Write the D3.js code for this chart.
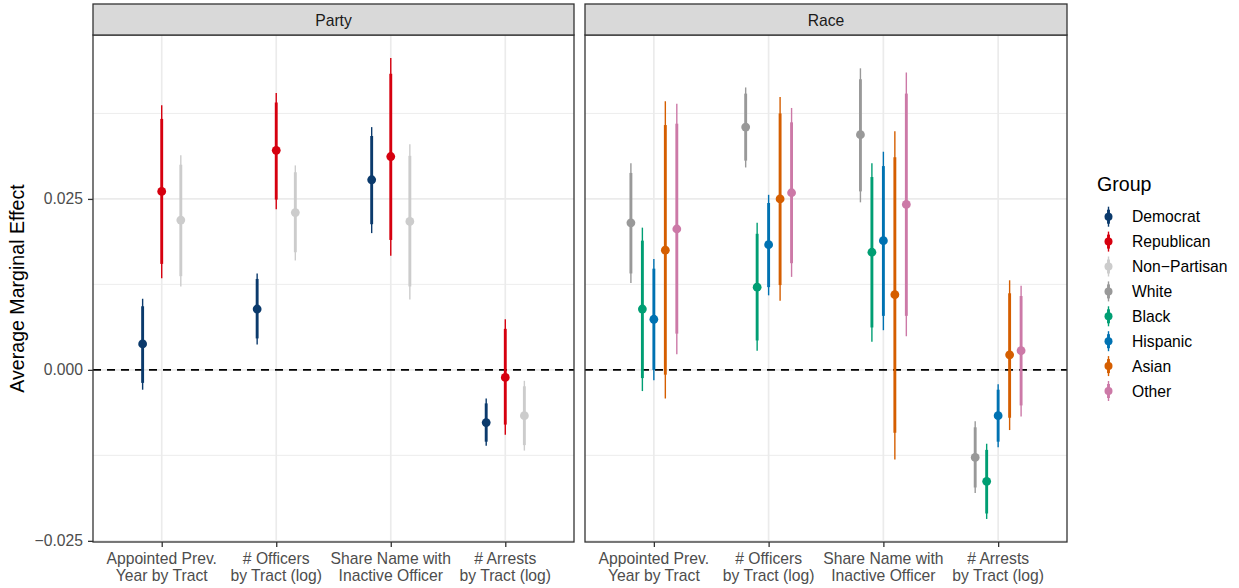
<!DOCTYPE html>
<html>
<head>
<meta charset="utf-8">
<script src="https://cdn.jsdelivr.net/npm/d3@7"></script>
<style>
  body { margin: 0; background: #ffffff; }
  text { font-family: "Liberation Sans", Arial, Helvetica, sans-serif; }
</style>
</head>
<body>
<svg id="chart" width="1239" height="588"></svg>
<script>
// ---- Data -------------------------------------------------------------
const categories = [
  "Appointed Prev.\nYear by Tract",
  "# Officers\nby Tract (log)",
  "Share Name with\nInactive Officer",
  "# Arrests\nby Tract (log)"
];
const facetNames = ["Party", "Race"];
const partyGroups = ["Democrat", "Republican", "Non\u2212Partisan"];
const raceGroups = ["White", "Black", "Hispanic", "Asian", "Other"];
const yTickValues = [-0.025, 0, 0.025];

// Point estimates (one value per category)
const estDemocrat    = [0.0038, 0.0089, 0.0278, -0.0077];
const estRepublican  = [0.0261, 0.0321, 0.0312, -0.0011];
const estNonPartisan = [0.0219, 0.0230, 0.0217, -0.0067];
const estWhite       = [0.0215, 0.0355, 0.0344, -0.0128];
const estBlack       = [0.0089, 0.0121, 0.0172, -0.0163];
const estHispanic    = [0.0074, 0.0183, 0.0189, -0.0067];
const estAsian       = [0.0175, 0.0250, 0.0110, 0.0022];
const estOther       = [0.0206, 0.0259, 0.0242, 0.0028];

// 90% intervals (inner, thick)
const lo90Democrat    = [-0.0019, 0.0046, 0.0213, -0.0105];
const hi90Democrat    = [0.0093, 0.0133, 0.0342, -0.0049];
const lo90Republican  = [0.0155, 0.0249, 0.0190, -0.0080];
const hi90Republican  = [0.0367, 0.0391, 0.0433, 0.0060];
const lo90NonPartisan = [0.0137, 0.0172, 0.0122, -0.0110];
const hi90NonPartisan = [0.0300, 0.0289, 0.0313, -0.0024];
const lo90White       = [0.0141, 0.0306, 0.0261, -0.0172];
const hi90White       = [0.0288, 0.0404, 0.0425, -0.0084];
const lo90Black       = [-0.0012, 0.0043, 0.0062, -0.0210];
const hi90Black       = [0.0189, 0.0199, 0.0282, -0.0117];
const lo90Hispanic    = [0.0000, 0.0121, 0.0079, -0.0105];
const hi90Hispanic    = [0.0148, 0.0244, 0.0298, -0.0029];
const lo90Asian       = [-0.0007, 0.0124, -0.0092, -0.0070];
const hi90Asian       = [0.0358, 0.0375, 0.0311, 0.0112];
const lo90Other       = [0.0053, 0.0156, 0.0079, -0.0052];
const hi90Other       = [0.0360, 0.0362, 0.0404, 0.0108];

// 95% intervals (outer, thin)
const lo95Democrat    = [-0.0029, 0.0037, 0.0200, -0.0111];
const hi95Democrat    = [0.0104, 0.0141, 0.0355, -0.0042];
const lo95Republican  = [0.0134, 0.0235, 0.0167, -0.0095];
const hi95Republican  = [0.0387, 0.0405, 0.0456, 0.0074];
const lo95NonPartisan = [0.0122, 0.0160, 0.0103, -0.0118];
const hi95NonPartisan = [0.0314, 0.0299, 0.0330, -0.0016];
const lo95White       = [0.0127, 0.0296, 0.0245, -0.0180];
const hi95White       = [0.0302, 0.0413, 0.0441, -0.0075];
const lo95Black       = [-0.0031, 0.0028, 0.0041, -0.0218];
const hi95Black       = [0.0208, 0.0215, 0.0302, -0.0108];
const lo95Hispanic    = [-0.0015, 0.0109, 0.0058, -0.0113];
const hi95Hispanic    = [0.0162, 0.0256, 0.0319, -0.0021];
const lo95Asian       = [-0.0042, 0.0101, -0.0131, -0.0088];
const hi95Asian       = [0.0393, 0.0399, 0.0349, 0.0131];
const lo95Other       = [0.0023, 0.0136, 0.0049, -0.0068];
const hi95Other       = [0.0389, 0.0383, 0.0435, 0.0123];

// ---- Table built from the arrays above --------------------------------
const seriesByGroup = {
  "Democrat":          [estDemocrat, lo90Democrat, hi90Democrat, lo95Democrat, hi95Democrat],
  "Republican":        [estRepublican, lo90Republican, hi90Republican, lo95Republican, hi95Republican],
  "Non\u2212Partisan": [estNonPartisan, lo90NonPartisan, hi90NonPartisan, lo95NonPartisan, hi95NonPartisan],
  "White":             [estWhite, lo90White, hi90White, lo95White, hi95White],
  "Black":             [estBlack, lo90Black, hi90Black, lo95Black, hi95Black],
  "Hispanic":          [estHispanic, lo90Hispanic, hi90Hispanic, lo95Hispanic, hi95Hispanic],
  "Asian":             [estAsian, lo90Asian, hi90Asian, lo95Asian, hi95Asian],
  "Other":             [estOther, lo90Other, hi90Other, lo95Other, hi95Other]
};
const facetGroups = { "Party": partyGroups, "Race": raceGroups };

const rows = [];
facetNames.forEach(f => {
  facetGroups[f].forEach((g, gi) => {
    const [est, lo90, hi90, lo95, hi95] = seriesByGroup[g];
    categories.forEach((c, ci) => {
      rows.push({ facet: f, group: g, gIndex: gi, nGroups: facetGroups[f].length,
                  cat: c, est: est[ci], lo90: lo90[ci], hi90: hi90[ci],
                  lo95: lo95[ci], hi95: hi95[ci] });
    });
  });
});

const allGroups = partyGroups.concat(raceGroups);
const color = d3.scaleOrdinal()
  .domain(allGroups)
  .range(["#0b3a6c", "#d6000f", "#cccccc", "#999999", "#009e73", "#0072b2", "#d55e00", "#cc79a7"]);

// ---- Layout -----------------------------------------------------------
const svg = d3.select("#chart");
const panelTop = 35, panelBottom = 542, stripTop = 4;
const panelX = { "Party": [93, 574], "Race": [585, 1067] };
const fsSmall = 15.7, fsLarge = 19.6;

// Shared y scale with 5% expansion on the data range
const yMin = d3.min(rows, d => d.lo95), yMax = d3.max(rows, d => d.hi95);
const pad = (yMax - yMin) * 0.05;
const y = d3.scaleLinear().domain([yMin - pad, yMax + pad]).range([panelBottom, panelTop]);
const minorTicks = [-0.0125, 0.0125, 0.0375].filter(v => v >= y.domain()[0] && v <= y.domain()[1]);

facetNames.forEach((f, fi) => {
  const [x0, x1] = panelX[f];
  const x = d3.scalePoint().domain(categories).range([x0, x1]).padding(0.6);
  const step = x.step();
  const dodge = 0.5;
  const g = svg.append("g");

  // panel background
  g.append("rect").attr("x", x0).attr("y", panelTop)
    .attr("width", x1 - x0).attr("height", panelBottom - panelTop).attr("fill", "#ffffff");

  // grid
  g.selectAll(".minor").data(minorTicks).join("line")
    .attr("x1", x0).attr("x2", x1).attr("y1", d => y(d)).attr("y2", d => y(d))
    .attr("stroke", "#ebebeb").attr("stroke-width", 0.9);
  g.selectAll(".majorY").data(yTickValues).join("line")
    .attr("x1", x0).attr("x2", x1).attr("y1", d => y(d)).attr("y2", d => y(d))
    .attr("stroke", "#ebebeb").attr("stroke-width", 1.7);
  g.selectAll(".majorX").data(categories).join("line")
    .attr("x1", d => x(d)).attr("x2", d => x(d)).attr("y1", panelTop).attr("y2", panelBottom)
    .attr("stroke", "#ebebeb").attr("stroke-width", 1.7);

  // zero reference line
  g.append("line").attr("x1", x0).attr("x2", x1).attr("y1", y(0)).attr("y2", y(0))
    .attr("stroke", "#000000").attr("stroke-width", 1.9).attr("stroke-dasharray", "8,6");

  // point ranges
  const data = rows.filter(r => r.facet === f);
  const xPos = d => x(d.cat) + step * dodge * ((d.gIndex + 0.5) / d.nGroups - 0.5);
  const pr = g.selectAll(".pr").data(data).join("g");
  pr.append("line").attr("x1", xPos).attr("x2", xPos)
    .attr("y1", d => y(d.lo95)).attr("y2", d => y(d.hi95))
    .attr("stroke", d => color(d.group)).attr("stroke-width", 1.4);
  pr.append("line").attr("x1", xPos).attr("x2", xPos)
    .attr("y1", d => y(d.lo90)).attr("y2", d => y(d.hi90))
    .attr("stroke", d => color(d.group)).attr("stroke-width", 2.9);
  pr.append("circle").attr("cx", xPos).attr("cy", d => y(d.est)).attr("r", 4.4)
    .attr("fill", d => color(d.group));

  // panel border
  g.append("rect").attr("x", x0).attr("y", panelTop)
    .attr("width", x1 - x0).attr("height", panelBottom - panelTop)
    .attr("fill", "none").attr("stroke", "#333333").attr("stroke-width", 1.3);

  // strip
  g.append("rect").attr("x", x0).attr("y", stripTop)
    .attr("width", x1 - x0).attr("height", panelTop - stripTop)
    .attr("fill", "#d9d9d9").attr("stroke", "#333333").attr("stroke-width", 1.3);
  g.append("text").attr("x", (x0 + x1) / 2).attr("y", 25.7)
    .attr("text-anchor", "middle").attr("font-size", fsSmall).attr("fill", "#1a1a1a")
    .text(f);

  // x axis
  const xAxis = g.append("g").attr("transform", `translate(0,${panelBottom})`)
    .call(d3.axisBottom(x).tickSize(5).tickFormat(""));
  xAxis.select(".domain").remove();
  xAxis.selectAll(".tick line").attr("stroke", "#333333").attr("stroke-width", 1.3);
  xAxis.selectAll(".tick text").remove();
  const lbl = g.selectAll(".xlbl").data(categories).join("text")
    .attr("text-anchor", "middle").attr("font-size", fsSmall).attr("fill", "#4d4d4d");
  lbl.each(function (d) {
    d.split("\n").forEach((line, li) => {
      d3.select(this).append("tspan").attr("x", x(d)).attr("y", 563.5 + li * 17.5).text(line);
    });
  });

  // y axis (left panel only)
  if (fi === 0) {
    const yAxis = g.append("g").attr("transform", `translate(${x0},0)`)
      .call(d3.axisLeft(y).tickValues(yTickValues).tickSize(5).tickPadding(5)
        .tickFormat(d3.format(".3f")));
    yAxis.select(".domain").remove();
    yAxis.selectAll(".tick line").attr("stroke", "#333333").attr("stroke-width", 1.3);
    yAxis.selectAll(".tick text").attr("font-size", fsSmall).attr("fill", "#4d4d4d")
      .attr("font-family", "Liberation Sans, Arial, sans-serif");
  }
});

// y axis title
svg.append("text").attr("transform", `translate(24,${(panelTop + panelBottom) / 2}) rotate(-90)`)
  .attr("text-anchor", "middle").attr("font-size", fsLarge).attr("fill", "#000000")
  .text("Average Marginal Effect");

// ---- Legend -----------------------------------------------------------
const legend = svg.append("g");
legend.append("text").attr("x", 1097).attr("y", 191).attr("font-size", fsLarge)
  .attr("fill", "#000000").text("Group");
const keyX = 1108.5, firstY = 216.7, keyStep = 24.9;
const items = legend.selectAll(".item").data(allGroups).join("g")
  .attr("transform", (d, i) => `translate(0,${firstY + i * keyStep})`);
items.append("line").attr("x1", keyX).attr("x2", keyX).attr("y1", -10).attr("y2", 10)
  .attr("stroke", d => color(d)).attr("stroke-width", 1.4);
items.append("line").attr("x1", keyX).attr("x2", keyX).attr("y1", -7).attr("y2", 7)
  .attr("stroke", d => color(d)).attr("stroke-width", 2.9);
items.append("circle").attr("cx", keyX).attr("cy", 0).attr("r", 4)
  .attr("fill", d => color(d));
items.append("text").attr("x", 1132).attr("y", 5.6).attr("font-size", fsSmall)
  .attr("fill", "#000000").text(d => d);
</script>
</body>
</html>
